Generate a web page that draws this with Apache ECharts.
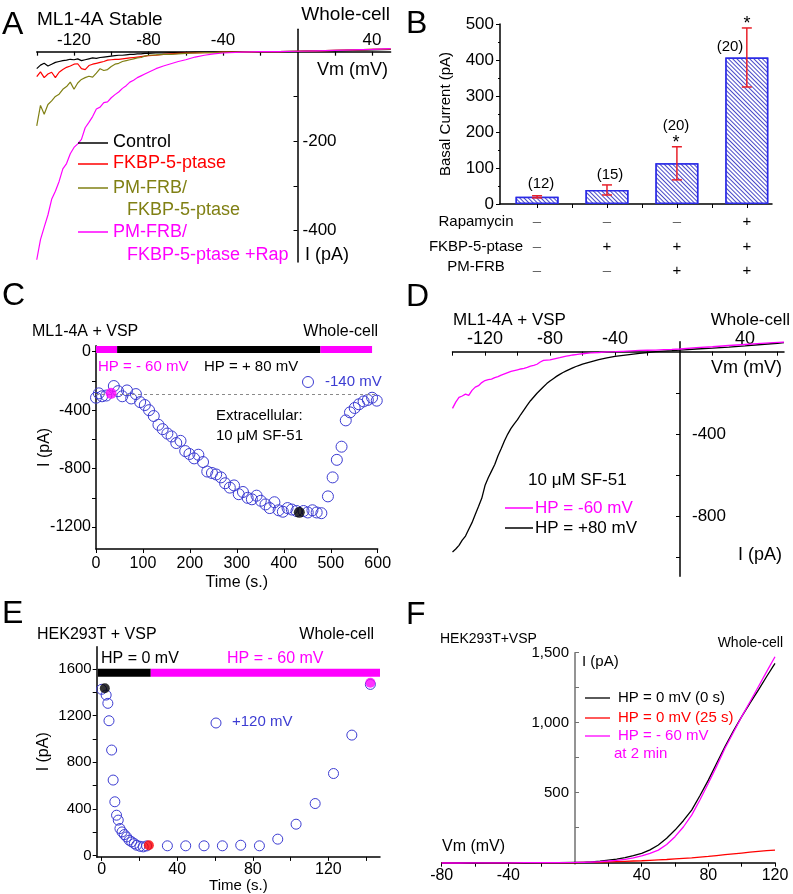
<!DOCTYPE html>
<html><head><meta charset="utf-8">
<script src="https://cdn.jsdelivr.net/npm/echarts@6/dist/echarts.min.js"></script>
<style>html,body{margin:0;padding:0;background:#fff}#c{width:793px;height:894px}</style>
</head><body><div id="c"></div>
<script>
// ---------- Panel A : I-V (ML1-4A Stable) ----------
const vA = [-140,-138,-136,-134,-132,-130,-128,-126,-124,-122,-120,-118,-116,-114,-112,-110,-108,-106,-104,-102,-100,-98,-96,-94,-92,-90,-88,-86,-84,-82,-80,-76,-72,-68,-64,-60,-55,-50,-45,-40,-30,-20,-10,0,10,20,30,40,50];
const aControl = [-38,-30,-26,-32,-28,-24,-22,-20,-19,-17,-18,-16,-20,-18,-16,-14,-15,-13,-12,-11,-10,-9,-8,-8,-7,-6,-6,-5,-5,-4,-4,-3,-3,-2,-2,-2,-1,-1,-1,0,0,0,0,1,2,2,3,4,5];
const aFkbp = [-56,-45,-58,-50,-46,-58,-46,-40,-35,-32,-28,-27,-38,-40,-31,-28,-26,-24,-22,-19,-18,-17,-17,-16,-15,-14,-13,-12,-11,-10,-9,-8,-6,-5,-4,-3,-3,-2,-2,-1,-1,0,0,1,2,3,4,5,6];
const aPmFrb = [-166,-120,-140,-118,-110,-100,-95,-84,-78,-68,-84,-70,-62,-58,-55,-57,-48,-38,-42,-40,-33,-28,-26,-22,-20,-18,-16,-14,-13,-10,-8,-7,-6,-6,-5,-4,-3,-2,-2,-1,-1,0,0,1,2,3,4,5,6];
const aRap = [-465,-420,-392,-365,-330,-312,-290,-262,-250,-228,-214,-206,-196,-170,-158,-145,-128,-124,-114,-112,-103,-96,-90,-82,-76,-68,-64,-58,-54,-50,-46,-38,-32,-27,-22,-18,-12,-8,-5,-3,-1,0,0,1,2,3,4,5,7];

// ---------- Panel B : basal current bars ----------
const bCat = [1,2,3,4];
const bMean = [20,39,113,407];
const bErr = [3,14,46,82];
const bN = ['(12)','(15)','(20)','(20)'];
const bRowNames = ['Rapamycin','FKBP-5-ptase','PM-FRB'];
const bRapa = ['–','–','–','+'];
const bFkbp = ['–','+','+','+'];
const bPmfrb = ['–','–','+','+'];

// ---------- Panel C : time course at -140 mV ----------
const tC = [0,6,13,22,38,47,56,66,75,85,94,104,113,123,133,142,152,161,171,180,190,199,209,218,228,237,247,256,266,275,285,294,304,313,323,332,342,351,361,370,380,389,398,408,417,427,442,451,461,470,480,494,504,513,523,532,541,551,560,570,579,588,598];
const iC = [-315,-285,-305,-300,-235,-270,-305,-265,-320,-290,-345,-365,-400,-440,-500,-530,-560,-580,-625,-610,-680,-700,-730,-705,-755,-820,-830,-840,-860,-900,-930,-915,-975,-960,-1000,-1010,-985,-1020,-1045,-1070,-1030,-1085,-1095,-1070,-1080,-1090,-1090,-1100,-1085,-1100,-1105,-990,-860,-740,-650,-470,-415,-385,-360,-340,-330,-315,-335];
const cMagPt = [32,-285];
const cBlkPt = [433,-1099];
const cBaseline = -290;
const cHpEdges = [0,45,478,588]; // -60 | +80 | -60 mV

// ---------- Panel D : I-V with VSP ----------
const vD = [-140,-138,-136,-134,-132,-130,-128,-126,-124,-122,-120,-118,-116,-114,-112,-110,-108,-106,-104,-102,-100,-98,-96,-94,-92,-90,-88,-86,-84,-82,-80,-78,-76,-74,-72,-70,-68,-66,-64,-62,-60,-55,-50,-45,-40,-35,-30,-25,-20,-15,-10,-5,0,10,20,30,40,50,60,64];
const dHp60 = [-275,-245,-222,-215,-206,-212,-188,-172,-165,-150,-140,-136,-133,-126,-121,-114,-108,-102,-96,-92,-88,-84,-81,-76,-70,-66,-61,-50,-42,-41,-40,-36,-32,-29,-25,-22,-19,-16,-14,-12,-10,-6,-4,-1,0,2,4,6,7,8,10,11,13,20,24,30,35,40,45,47];
const dHp80 = [-972,-958,-940,-915,-895,-862,-830,-790,-752,-712,-650,-612,-580,-548,-505,-470,-432,-400,-372,-350,-330,-305,-282,-260,-238,-220,-202,-186,-170,-155,-142,-131,-120,-110,-101,-93,-86,-79,-72,-66,-60,-49,-38,-30,-23,-18,-13,-8,-4,0,3,5,8,13,17,22,28,35,41,44];

// ---------- Panel E : time course at +120 mV ----------
const tE = [0,2.4,3.3,3.9,5.3,6.1,7,7.9,8.8,9.7,10.8,12,13.2,14.6,15.9,17.3,18.5,20.3,22,23.8,34.8,44.5,54.2,63.9,73.6,83.5,93.2,102.9,113,122.7,132.4,142.2];
const iE = [1425,1376,1305,1156,905,648,462,347,305,233,204,181,161,133,119,104,90,81,76,84,85,85,85,85,90,85,142,270,447,704,1033,1467];
const eBlkPt = [1.7,1434];
const eRedPt = [25,90];
const eMagPt = [142.2,1481];
const eHpEdges = [-2,26,147.3]; // 0 mV | -60 mV

// ---------- Panel F : I-V HEK293T ----------
const vF = [-80,-70,-60,-50,-40,-30,-20,-10,0,5,10,15,20,25,30,35,40,45,50,55,60,65,70,75,80,85,90,95,100,105,110,115,120];
const fHp0 = [-3,-2,-2,-1,-1,-1,0,0,2,3,6,11,19,26,36,50,67,92,126,175,233,300,376,480,590,710,829,940,1043,1140,1233,1330,1424];
const fHp0_25 = [-2,-2,-1,-1,-1,0,0,0,1,2,3,4,6,8,10,12,14,17,20,23,27,31,35,40,45,51,57,63,69,75,81,86,90];
const fHp60 = [-2,-2,-1,-1,-1,0,0,1,2,3,5,8,12,17,24,34,48,66,90,130,186,255,340,450,567,690,817,930,1043,1150,1257,1365,1471];

// ================= build =================
const FONT = 'Liberation Sans, Arial, Helvetica, sans-serif';
const MAG = '#ff00ff', RED = '#ff0000', OLIVE = '#808014', BLUE = '#3c3cd2';
const zip = (a, b) => a.map((v, i) => [v, b[i]]);
const axLine = (c) => ({ lineStyle: { color: c || '#000', width: 1.5 } });
const plain = v => String(v);

const gr = [];
function T(x, y, s, o) { gr.push({ type: 'text', x: x, y: y, z: 100, style: Object.assign({ text: s, fill: '#000', fontSize: 16, fontFamily: FONT, align: 'left', verticalAlign: 'middle', textAlign: 'left', textVerticalAlign: 'middle' }, o || {}) }); }
function L(x1, y1, x2, y2, c, w) { gr.push({ type: 'line', z: 100, shape: { x1: x1, y1: y1, x2: x2, y2: y2 }, style: { stroke: c, lineWidth: w || 1.5 } }); }
function Cc(cx, cy, r, c) { gr.push({ type: 'circle', z: 100, shape: { cx: cx, cy: cy, r: r }, style: { fill: 'transparent', stroke: c, lineWidth: 1 } }); }

// panel letters
T(2, 25, 'A', { fontSize: 32 }); T(406, 24, 'B', { fontSize: 32 });
T(2, 296, 'C', { fontSize: 32 }); T(406, 297, 'D', { fontSize: 32 });
T(2, 614, 'E', { fontSize: 32 }); T(406, 615, 'F', { fontSize: 32 });

// A texts
T(37, 20, 'ML1-4A Stable', { fontSize: 19 });
T(390, 15, 'Whole-cell', { fontSize: 19, align: 'right', textAlign: 'right' });
T(388, 70, 'Vm (mV)', { fontSize: 18, align: 'right', textAlign: 'right' });
T(305, 255, 'I (pA)', { fontSize: 18 });
L(78, 143, 108, 143, '#000'); T(113, 142, 'Control', { fontSize: 18 });
L(78, 164, 108, 164, RED); T(113, 163, 'FKBP-5-ptase', { fontSize: 18, fill: RED });
L(78, 188, 108, 188, OLIVE); T(113, 188, 'PM-FRB/', { fontSize: 18, fill: OLIVE });
T(127, 210, 'FKBP-5-ptase', { fontSize: 18, fill: OLIVE });
L(78, 232, 108, 232, MAG); T(113, 232, 'PM-FRB/', { fontSize: 18, fill: MAG });
T(127, 255, 'FKBP-5-ptase +Rap', { fontSize: 18, fill: MAG });

// B texts
T(541, 184, bN[0], { fontSize: 15, align: 'center', textAlign: 'center' });
T(610, 175, bN[1], { fontSize: 15, align: 'center', textAlign: 'center' });
T(676, 126, bN[2], { fontSize: 15, align: 'center', textAlign: 'center' });
T(676, 143, '*', { fontSize: 18, align: 'center', textAlign: 'center' });
T(730, 47, bN[3], { fontSize: 15, align: 'center', textAlign: 'center' });
T(747, 24, '*', { fontSize: 18, align: 'center', textAlign: 'center' });
const rowY = [222, 247, 271];
const rowSigns = [bRapa, bFkbp, bPmfrb];
const colX = [537, 607, 677, 747];
bRowNames.forEach((n, r) => {
  T(476, rowY[r] - (r === 2 ? 4 : 0), n, { fontSize: 15, align: 'center', textAlign: 'center' });
  rowSigns[r].forEach((s, c) => T(colX[c], rowY[r], s, { fontSize: 15, align: 'center', textAlign: 'center', fill: s === '+' ? '#000' : '#666' }));
});

// C texts
T(32, 332, 'ML1-4A + VSP', { fontSize: 16 });
T(378, 332, 'Whole-cell', { fontSize: 16, align: 'right', textAlign: 'right' });
T(98, 367, 'HP = - 60 mV', { fontSize: 15, fill: MAG });
T(204, 367, 'HP = + 80 mV', { fontSize: 15 });
Cc(308, 382, 5.5, BLUE); T(325, 382, '-140 mV', { fontSize: 15, fill: BLUE });
T(216, 416, 'Extracellular:', { fontSize: 15 });
T(216, 436, '10 μM SF-51', { fontSize: 15 });

// D texts
T(453, 320, 'ML1-4A + VSP', { fontSize: 17 });
T(790, 320, 'Whole-cell', { fontSize: 17, align: 'right', textAlign: 'right' });
T(782, 368, 'Vm (mV)', { fontSize: 18, align: 'right', textAlign: 'right' });
T(782, 555, 'I (pA)', { fontSize: 18, align: 'right', textAlign: 'right' });
T(528, 480, '10 μM SF-51', { fontSize: 17 });
L(505, 508, 533, 508, MAG); T(535, 508, 'HP = -60 mV', { fontSize: 17, fill: MAG });
L(505, 528, 533, 528, '#000'); T(535, 528, 'HP = +80 mV', { fontSize: 17 });

// E texts
T(37, 635, 'HEK293T + VSP', { fontSize: 16 });
T(374, 635, 'Whole-cell', { fontSize: 16, align: 'right', textAlign: 'right' });
T(101, 659, 'HP = 0 mV', { fontSize: 16 });
T(227, 659, 'HP = - 60 mV', { fontSize: 16, fill: MAG });
Cc(216, 723, 5, BLUE); T(232, 722, '+120 mV', { fontSize: 15, fill: BLUE });

// F texts
T(440, 639, 'HEK293T+VSP', { fontSize: 14 });
T(783, 643, 'Whole-cell', { fontSize: 14, align: 'right', textAlign: 'right' });
T(582, 662, 'I (pA)', { fontSize: 15 });
L(585, 698, 610, 698, '#000', 1.3); T(618, 698, 'HP = 0 mV (0 s)', { fontSize: 15 });
L(585, 718, 610, 718, RED, 1.3); T(618, 718, 'HP = 0 mV (25 s)', { fontSize: 15, fill: RED });
L(585, 736, 610, 736, MAG, 1.3); T(618, 736, 'HP = - 60 mV', { fontSize: 15, fill: MAG });
T(614, 754, 'at 2 min', { fontSize: 15, fill: MAG });
T(442, 847, 'Vm (mV)', { fontSize: 16 });

const lbl = (o) => Object.assign({ color: '#000', fontFamily: FONT }, o);
const noSplit = { show: false };

const grids = [
  { left: 36.75, top: 29.3, width: 353.9, height: 232.7 },
  { left: 500, top: 24, width: 272, height: 180 },
  { left: 96, top: 345.85, width: 281.7, height: 203.15 },
  { left: 452.5, top: 341.8, width: 331.5, height: 234.4 },
  { left: 96.7, top: 646.7, width: 283.3, height: 210.2 },
  { left: 441.7, top: 652.7, width: 333.3, height: 211.4 }
].map(g => Object.assign({ containLabel: false, outerBoundsMode: 'none' }, g));

// ranges of the axes that cross at the origin
const rA = { x: [-140, 50], y: [-470, 50] };
const rD = { x: [-140, 64], y: [-1090, 48] };
const rF = { x: [-80, 120], y: [-10, 1500] };
// distance (px) from a grid edge to the zero line of an axis
const fromMax = (r, len) => -(r[1] / (r[1] - r[0])) * len;
const fromMin = (r, len) => -((0 - r[0]) / (r[1] - r[0])) * len;

const xAxes = [
  { gridIndex: 0, type: 'value', min: rA.x[0], max: rA.x[1], position: 'top', offset: fromMax(rA.y, grids[0].height), axisLine: Object.assign({ onZero: false }, axLine()), axisTick: { inside: true, length: 4, customValues: [-140,-120,-100,-80,-60,-40,-20,20,40], lineStyle: { width: 1.2 } }, axisLabel: lbl({ customValues: [-120,-80,-40,40], fontSize: 17, margin: 3 }), splitLine: noSplit },
  { gridIndex: 1, type: 'value', min: 0.47, max: 4.36, axisLine: Object.assign({ onZero: false }, axLine()), axisTick: { length: 4, customValues: [1,1.5,2,2.5,3,3.5,4] }, axisLabel: { show: false }, splitLine: noSplit },
  { gridIndex: 2, type: 'value', min: 0, max: 600, interval: 100, axisLine: Object.assign({ onZero: false }, axLine()), axisTick: { length: 4 }, axisLabel: lbl({ fontSize: 16, margin: 7 }), splitLine: noSplit, name: 'Time (s.)', nameLocation: 'middle', nameGap: 26, nameTextStyle: lbl({ fontSize: 16 }) },
  { gridIndex: 3, type: 'value', min: rD.x[0], max: rD.x[1], position: 'top', offset: fromMax(rD.y, grids[3].height), axisLine: Object.assign({ onZero: false }, axLine()), axisTick: { inside: true, length: 4, customValues: [-140,-120,-100,-80,-60,-40,-20,20,40,60] }, axisLabel: lbl({ customValues: [-120,-80,-40,40], fontSize: 18, margin: 4 }), splitLine: noSplit },
  { gridIndex: 4, type: 'value', min: -2.6, max: 147.3, axisLine: Object.assign({ onZero: false }, axLine()), axisTick: { length: 4, customValues: [0,20,40,60,80,100,120,140] }, axisLabel: lbl({ customValues: [0,40,80,120], fontSize: 16, margin: 5 }), splitLine: noSplit, name: 'Time (s.)', nameLocation: 'middle', nameGap: 20, nameTextStyle: lbl({ fontSize: 15 }) },
  { gridIndex: 5, type: 'value', min: rF.x[0], max: rF.x[1], position: 'bottom', offset: fromMin(rF.y, grids[5].height), axisLine: Object.assign({ onZero: false }, axLine()), axisTick: { length: 4, customValues: [-80,-60,-40,-20,20,40,60,80,100,120] }, axisLabel: lbl({ customValues: [-80,-40,40,80,120], fontSize: 16, margin: 5 }), splitLine: noSplit }
];

const yAxes = [
  { gridIndex: 0, type: 'value', min: rA.y[0], max: rA.y[1], position: 'right', offset: fromMax(rA.x, grids[0].width), axisLine: Object.assign({ onZero: false }, axLine()), axisTick: { inside: true, length: 4, customValues: [-100,-200,-300,-400] }, axisLabel: lbl({ customValues: [-200,-400], fontSize: 17, margin: 5 }), splitLine: noSplit },
  { gridIndex: 1, type: 'value', min: 0, max: 500, interval: 100, axisLine: Object.assign({ show: true, onZero: false }, axLine()), axisTick: { show: true, length: 4 }, minorTick: { show: true, splitNumber: 2, length: 2 }, axisLabel: lbl({ fontSize: 17, margin: 6 }), splitLine: noSplit, name: 'Basal Current (pA)', nameLocation: 'middle', nameGap: 47, nameMoveOverlap: false, nameTextStyle: lbl({ fontSize: 15 }) },
  { gridIndex: 2, type: 'value', min: -1350, max: 40, axisLine: Object.assign({ show: true, onZero: false }, axLine()), axisTick: { show: true, length: 4, customValues: [0,-200,-400,-600,-800,-1000,-1200] }, axisLabel: lbl({ customValues: [0,-400,-800,-1200], fontSize: 16, margin: 5, formatter: plain }), splitLine: noSplit, name: 'I (pA)', nameLocation: 'middle', nameGap: 43, nameMoveOverlap: false, nameTextStyle: lbl({ fontSize: 16 }) },
  { gridIndex: 3, type: 'value', min: rD.y[0], max: rD.y[1], position: 'right', offset: fromMax(rD.x, grids[3].width), axisLine: Object.assign({ onZero: false }, axLine()), axisTick: { inside: true, length: 4, customValues: [-200,-400,-600,-800,-1000] }, axisLabel: lbl({ customValues: [-400,-800], fontSize: 17, margin: 12 }), splitLine: noSplit },
  { gridIndex: 4, type: 'value', min: -10, max: 1790, axisLine: Object.assign({ show: true, onZero: false }, axLine()), axisTick: { show: true, length: 4, customValues: [0,200,400,600,800,1000,1200,1400,1600] }, axisLabel: lbl({ customValues: [0,400,800,1200,1600], fontSize: 15, margin: 5, formatter: plain }), splitLine: noSplit, name: 'I (pA)', nameLocation: 'middle', nameGap: 45, nameMoveOverlap: false, nameTextStyle: lbl({ fontSize: 16 }) },
  { gridIndex: 5, type: 'value', min: rF.y[0], max: rF.y[1], position: 'left', offset: fromMin(rF.x, grids[5].width), axisLine: Object.assign({ show: true, onZero: false }, axLine('#707070')), axisTick: { show: true, inside: true, length: 4, customValues: [250,500,750,1000,1250,1500], lineStyle: { color: '#707070' } }, axisLabel: lbl({ customValues: [500,1000,1500], fontSize: 15, margin: 6, formatter: v => Number(v).toLocaleString('en-US') }), splitLine: noSplit }
];

function line(ax, x, y, color, w, z) {
  return { type: 'line', xAxisIndex: ax, yAxisIndex: ax, data: zip(x, y), showSymbol: false, symbol: 'none', silent: true, z: z || 2, lineStyle: { color: color, width: w || 1.2 } };
}
function seg(ax, x0, x1, y, color, w) {
  return { type: 'line', xAxisIndex: ax, yAxisIndex: ax, data: [[x0, y], [x1, y]], showSymbol: false, symbol: 'none', silent: true, z: 3, lineStyle: { color: color, width: w, cap: 'butt' } };
}
function openPts(ax, x, y, size) {
  return { type: 'scatter', xAxisIndex: ax, yAxisIndex: ax, data: zip(x, y), symbol: 'circle', symbolSize: size, silent: true, z: 4, itemStyle: { color: 'rgba(255,255,255,0)', borderColor: BLUE, borderWidth: 1, opacity: 1 } };
}
function fillPt(ax, p, color, size) {
  return { type: 'scatter', xAxisIndex: ax, yAxisIndex: ax, data: [p], symbol: 'circle', symbolSize: size, silent: true, z: 5, itemStyle: { color: color } };
}

const series = [
  // A
  line(0, vA, aControl, '#000', 1.2, 2),
  line(0, vA, aFkbp, RED, 1.2, 3),
  line(0, vA, aPmFrb, OLIVE, 1.2, 4),
  line(0, vA, aRap, MAG, 1.2, 5),
  // B
  { type: 'bar', xAxisIndex: 1, yAxisIndex: 1, data: zip(bCat, bMean), barWidth: 43, silent: true,
    itemStyle: { color: '#ffffff', borderColor: '#2a2ae6', borderWidth: 1.5,
      decal: { symbol: 'rect', symbolSize: 1, color: '#4848c8', backgroundColor: '#ffffff', dashArrayX: [1, 0], dashArrayY: [1, 1.4], rotation: Math.PI / 4 } } },
  { type: 'custom', xAxisIndex: 1, yAxisIndex: 1, z: 10, silent: true,
    data: bCat.map((c, i) => [c, bMean[i], bErr[i]]),
    encode: { x: 0, y: 1 },
    renderItem: function (params, api) {
      const x = api.value(0), m = api.value(1), e = api.value(2);
      const top = api.coord([x, m + e]), bot = api.coord([x, m - e]);
      const w = 5, st = { stroke: '#e8202a', lineWidth: 1.5 };
      return { type: 'group', children: [
        { type: 'line', shape: { x1: top[0], y1: top[1], x2: bot[0], y2: bot[1] }, style: st },
        { type: 'line', shape: { x1: top[0] - w, y1: top[1], x2: top[0] + w, y2: top[1] }, style: st },
        { type: 'line', shape: { x1: bot[0] - w, y1: bot[1], x2: bot[0] + w, y2: bot[1] }, style: st }
      ] };
    } },
  // C
  seg(2, cHpEdges[0], cHpEdges[1], 15, MAG, 7),
  seg(2, cHpEdges[1], cHpEdges[2], 15, '#000', 7),
  seg(2, cHpEdges[2], cHpEdges[3], 15, MAG, 7),
  Object.assign(openPts(2, tC, iC, 11), { markLine: { silent: true, symbol: ['none', 'none'], label: { show: false }, lineStyle: { color: '#8a8a8a', type: [3, 3], width: 1 }, data: [{ yAxis: cBaseline }] } }),
  fillPt(2, cMagPt, MAG, 11),
  fillPt(2, cBlkPt, '#000', 11),
  // D
  line(3, vD, dHp80, '#000', 1.3, 2),
  line(3, vD, dHp60, MAG, 1.3, 3),
  // E
  seg(4, eHpEdges[0], eHpEdges[1], 1567, '#000', 8),
  seg(4, eHpEdges[1], eHpEdges[2], 1567, MAG, 8),
  openPts(4, tE, iE, 10),
  fillPt(4, eBlkPt, '#000', 10),
  fillPt(4, eRedPt, RED, 10),
  fillPt(4, eMagPt, MAG, 10),
  // F
  line(5, vF, fHp0_25, RED, 1.3, 2),
  line(5, vF, fHp0, '#000', 1.3, 3),
  line(5, vF, fHp60, MAG, 1.3, 4)
];

const chart = echarts.init(document.getElementById('c'), null, { renderer: 'canvas' });
chart.setOption({
  animation: false,
  backgroundColor: '#ffffff',
  textStyle: { fontFamily: FONT },
  grid: grids, xAxis: xAxes, yAxis: yAxes, series: series,
  graphic: { elements: gr }
});
</script></body></html>
